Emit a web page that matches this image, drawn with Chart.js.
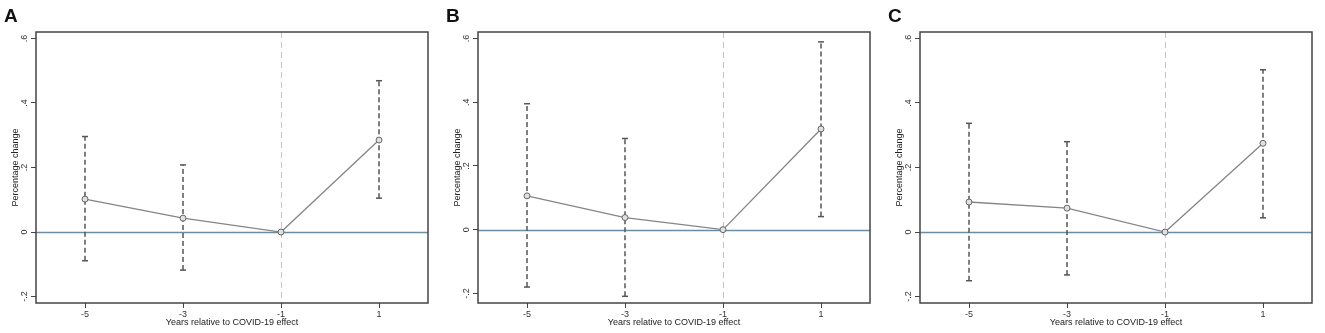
<!DOCTYPE html>
<html>
<head>
<meta charset="utf-8">
<script src="https://cdn.jsdelivr.net/npm/chart.js@4.4.1/dist/chart.umd.min.js"></script>
<style>
  body { margin: 0; background: #fff; }
  .panel { position: absolute; top: 0; width: 441px; height: 333px; }
</style>
</head>
<body>
<div class="panel" style="left:0px"><canvas id="chartA"></canvas></div>
<div class="panel" style="left:442px"><canvas id="chartB"></canvas></div>
<div class="panel" style="left:884px"><canvas id="chartC"></canvas></div>
<script>
// years relative to the COVID-19 effect
var years = [-5, -3, -1, 1];
var xTickLabels = ['-5', '-3', '-1', '1'];
var yTicks = [-0.2, 0, 0.2, 0.4, 0.6];
var yTickLabels = ['-.2', '0', '.2', '.4', '.6'];

// panel A
var estA = [0.102, 0.043, 0, 0.285];
var lowA = [-0.089, -0.118, null, 0.105];
var highA = [0.296, 0.208, null, 0.469];
// panel B
var estB = [0.106, 0.038, 0, 0.316];
var lowB = [-0.180, -0.209, null, 0.041];
var highB = [0.395, 0.286, null, 0.589];
// panel C
var estC = [0.093, 0.074, 0, 0.275];
var lowC = [-0.151, -0.133, null, 0.044];
var highC = [0.337, 0.280, null, 0.503];

Chart.defaults.font.family = '"Liberation Sans", Arial, sans-serif';
Chart.defaults.color = '#333';

// box around the plot, line at zero and dashed line at -1
var framePlugin = {
    id: 'frame',
    beforeDatasetsDraw: function(chart) {
        var ctx = chart.ctx, a = chart.chartArea;
        var y0 = Math.round(chart.scales.y.getPixelForValue(0)) + 0.5;
        var xRef = Math.round(chart.scales.x.getPixelForValue(-1)) + 0.5;
        ctx.save();
        ctx.lineWidth = 1;
        ctx.strokeStyle = '#c4c4c4';
        ctx.setLineDash([6, 4]);
        ctx.beginPath();
        ctx.moveTo(xRef, a.top);
        ctx.lineTo(xRef, a.bottom);
        ctx.stroke();
        ctx.setLineDash([]);
        ctx.strokeStyle = '#6d8ca1';
        ctx.lineWidth = 1.4;
        ctx.beginPath();
        ctx.moveTo(a.left, y0);
        ctx.lineTo(a.right, y0);
        ctx.stroke();
        ctx.restore();
    },
    afterDraw: function(chart) {
        var ctx = chart.ctx, a = chart.chartArea;
        ctx.save();
        ctx.lineWidth = 1.5;
        ctx.strokeStyle = '#444';
        ctx.strokeRect(a.left, a.top, a.right - a.left, a.bottom - a.top);
        ctx.restore();
    }
};

function makeChart(id, letter, est, low, high, yMin) {
    var datasets = [{
        data: years.map(function(x, i) { return {x: x, y: est[i]}; }),
        borderColor: '#858585',
        borderWidth: 1.3,
        pointRadius: 3,
        pointBorderWidth: 1,
        pointBorderColor: '#666',
        pointBackgroundColor: '#e0e0e0',
        order: 0
    }];
    years.forEach(function(x, i) {
        if (low[i] === null) return;
        datasets.push({
            data: [{x: x, y: low[i]}, {x: x, y: high[i]}],
            borderColor: '#555',
            borderWidth: 1.5,
            borderDash: [5, 3],
            pointStyle: 'line',
            pointRadius: 3,
            pointBorderWidth: 1.5,
            pointBorderColor: '#555',
            order: 1
        });
    });

    return new Chart(document.getElementById(id).getContext('2d'), {
        type: 'line',
        data: { datasets: datasets },
        options: {
            responsive: true,
            maintainAspectRatio: false,
            animation: false,
            layout: { padding: { left: 4, right: 13, top: 0, bottom: 0 } },
            plugins: {
                legend: { display: false },
                tooltip: { enabled: false },
                title: {
                    display: true,
                    text: letter,
                    align: 'start',
                    color: '#111',
                    font: { size: 19, weight: 'bold' },
                    padding: { top: 5, bottom: 4.2 }
                }
            },
            scales: {
                x: {
                    type: 'linear',
                    min: -6,
                    max: 2,
                    afterBuildTicks: function(scale) {
                        scale.ticks = years.map(function(v) { return {value: v}; });
                    },
                    afterFit: function(scale) { scale.height = 30; },
                    border: { display: false },
                    grid: { drawOnChartArea: false, drawTicks: true, tickLength: 5, tickColor: '#444', tickWidth: 1 },
                    ticks: {
                        padding: 1,
                        font: { size: 9 },
                        maxRotation: 0,
                        callback: function(v) { return xTickLabels[years.indexOf(v)]; }
                    },
                    title: {
                        display: true,
                        text: 'Years relative to COVID-19 effect',
                        color: '#222',
                        font: { size: 9 },
                        padding: { top: 0, bottom: 4.6 }
                    }
                },
                y: {
                    type: 'linear',
                    min: yMin,
                    max: 0.62,
                    afterBuildTicks: function(scale) {
                        scale.ticks = yTicks.map(function(v) { return {value: v}; });
                    },
                    afterFit: function(scale) { scale.width = 32; },
                    border: { display: false },
                    grid: { drawOnChartArea: false, drawTicks: true, tickLength: 5, tickColor: '#444', tickWidth: 1 },
                    ticks: {
                        padding: 1,
                        font: { size: 9 },
                        minRotation: 90,
                        maxRotation: 90,
                        crossAlign: 'center',
                        callback: function(v) { return yTickLabels[yTicks.indexOf(v)]; }
                    },
                    title: {
                        display: true,
                        text: 'Percentage change',
                        color: '#222',
                        font: { size: 9 },
                        padding: { top: 6, bottom: 0 }
                    }
                }
            }
        },
        plugins: [framePlugin]
    });
}

makeChart('chartA', 'A', estA, lowA, highA, -0.22);
makeChart('chartB', 'B', estB, lowB, highB, -0.23);
makeChart('chartC', 'C', estC, lowC, highC, -0.22);
</script>
</body>
</html>
